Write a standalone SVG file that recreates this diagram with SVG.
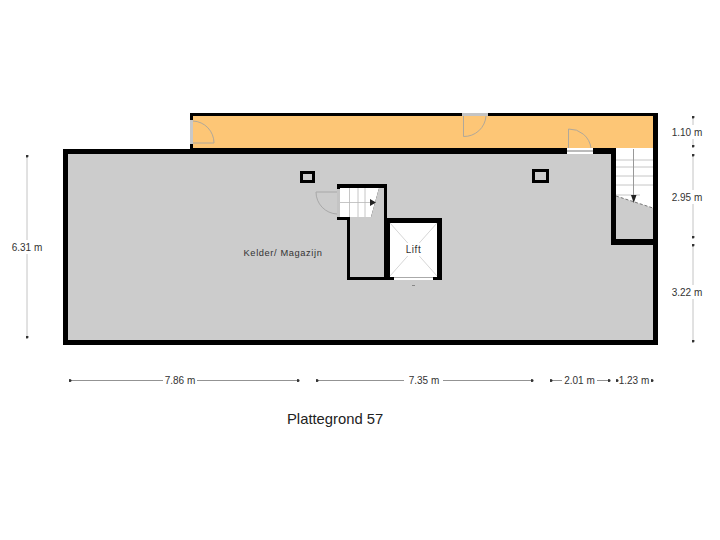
<svg xmlns="http://www.w3.org/2000/svg" width="720" height="540" viewBox="0 0 720 540">
<defs>
<marker id="dot" viewBox="0 0 4 4" refX="2" refY="2" markerWidth="3" markerHeight="3" markerUnits="userSpaceOnUse"><circle cx="2" cy="2" r="2" fill="#333"/></marker>
</defs>
<style>
.wall{fill:#000}
.door{fill:none;stroke:#b0a89a;stroke-width:1}
.gdoor{fill:none;stroke:#a8a8a8;stroke-width:1}
.tread{stroke:#b8b8b8;stroke-width:.8;fill:none}
.dim{stroke:#c4c4c4;stroke-width:1;fill:none;marker-start:url(#dot);marker-end:url(#dot)}
.dimh{stroke:#777;stroke-width:.8;fill:none;marker-start:url(#dot);marker-end:url(#dot)}
.t{font-family:"Liberation Sans",Arial,sans-serif;font-size:10px;fill:#333;text-anchor:middle}
</style>
<rect width="720" height="540" fill="#fff"/>
<g id="floor">
<rect x="63" y="149" width="595" height="196" fill="#000"/>
<rect x="68" y="154" width="585" height="186" fill="#ccc"/>
</g>
<g id="corridor">
<rect x="190" y="113" width="468" height="41" fill="#000"/>
<rect x="193" y="116" width="460" height="32" fill="#fdc676"/>
</g>
<g id="stair-right">
<rect x="611" y="148" width="42" height="97" class="wall"/>
<rect x="616" y="148" width="37" height="91" fill="#ccc"/>
<path d="M616 148H653V208L616 196Z" fill="#fff"/>
<path class="tread" d="M616 160H653M616 167H653M616 176H653M616 185H653M616 195H640"/>
<path d="M616 196L653 208" stroke="#777" stroke-width="1" stroke-dasharray="3 2" fill="none"/>
<path d="M633.500 149V198" stroke="#999" stroke-width="1" fill="none"/>
<path d="M631 195H636.500L633.700 203Z" fill="#222"/>
<rect x="653" y="113" width="5" height="232" class="wall"/>
</g>
<g id="door-west">
<rect x="190" y="120" width="3" height="24" fill="#c8c8c8"/>
<path class="door" d="M193 121A22 22 0 0 1 214 143H193"/>
</g>
<g id="door-north">
<rect x="462" y="113" width="26" height="3" fill="#c4c4c4"/>
<path class="door" d="M463.500 116V136.500A22 22 0 0 0 486 116"/>
</g>
<g id="door-south">
<rect x="567" y="148" width="26" height="6" fill="#fff"/>
<rect x="567" y="150" width="26" height="2" fill="#bbb"/>
<path class="door" d="M568.500 148V129A22 22 0 0 1 591 148"/>
</g>
<g id="column-west">
<rect x="300" y="171" width="15" height="12" fill="#000"/>
<rect x="303" y="174" width="9" height="6" fill="#ccc"/>
</g>
<g id="column-east">
<rect x="532" y="169" width="17" height="14" fill="#000"/>
<rect x="535" y="172" width="11" height="8" fill="#ccc"/>
</g>
<g id="stair-core">
<path class="wall" d="M337 184H387V280H347V220H337Z"/>
<path d="M379 188H384V277H350V217H371Z" fill="#ccc"/>
<path d="M340 188H379L371 217H340Z" fill="#fff"/>
<path d="M349.500 188V217M358 188V217M365 188V217M340 202.500H372" class="tread"/>
<path d="M370 199L376 202.500L370 206Z" fill="#222"/>
<rect x="337" y="189" width="3" height="28" fill="#c4c4c4"/>
<path class="gdoor" d="M337 192H316A22 22 0 0 0 337 214"/>
</g>
<g id="lift">
<rect x="387" y="218" width="55" height="62" class="wall"/>
<rect x="390" y="223" width="47" height="54" fill="#fff"/>
<rect x="394" y="276" width="39" height="4" fill="#fff"/>
<path d="M394 277.500H433" stroke="#aaa" stroke-width="1"/>
<path d="M390 223L437 276M437 223L390 276" stroke="#ccc" stroke-width=".8" fill="none"/>
<rect x="404" y="243" width="19" height="13" fill="#fff"/>
<rect x="412" y="285" width="3" height="1" fill="#888"/>
<text class="t" x="413.500" y="253" letter-spacing=".6">Lift</text>
</g>
<g id="connectors">
<path class="dim" d="M27 156V240M27 254V337"/>
<path class="dim" d="M693 117V125M693 139V146"/>
<path class="dim" d="M693 155V190M693 204V237"/>
<path class="dim" d="M693 245V285M693 299V341"/>
<path class="dimh" d="M70 380.500H163M197 380.500H298"/>
<path class="dimh" d="M317 380.500H404M443 380.500H532"/>
<path class="dimh" d="M551 380.500H562M597 380.500H609"/>
<path class="dimh" d="M617 380.500H618M651 380.500H652"/>
</g>
<g id="labels">
<text class="t" x="27" y="251">6.31 m</text>
<text class="t" x="687" y="136">1.10 m</text>
<text class="t" x="687" y="201">2.95 m</text>
<text class="t" x="687" y="296">3.22 m</text>
<text class="t" x="180" y="384">7.86 m</text>
<text class="t" x="424" y="384">7.35 m</text>
<text class="t" x="579.500" y="384">2.01 m</text>
<text class="t" x="634" y="384">1.23 m</text>
<text class="t" x="283" y="256" letter-spacing=".6" style="font-size:9.300px">Kelder/ Magazijn</text>
<text x="287" y="424" style="font-family:'Liberation Sans',Arial,sans-serif;font-size:14.800px;fill:#222">Plattegrond 57</text>
</g>
</svg>
